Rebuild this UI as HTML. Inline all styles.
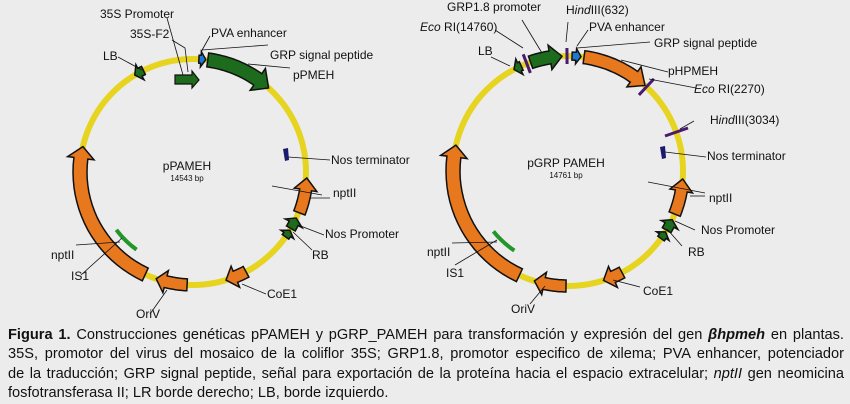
<!DOCTYPE html>
<html><head><meta charset="utf-8">
<style>
html,body{margin:0;padding:0;background:#ececec;}
body{width:850px;height:404px;overflow:hidden;position:relative;font-family:"Liberation Sans",sans-serif;}
svg{position:absolute;left:0;top:0;}
svg text{font-family:"Liberation Sans",sans-serif;font-size:12px;fill:#111;}
.cap{position:absolute;left:8px;width:836px;font-size:14.6px;color:#111;line-height:19.3px;}
.cap div{text-align:justify;text-align-last:justify;white-space:nowrap;}
.cap div.last{text-align-last:left;}
</style></head><body>
<svg id="s" width="850" height="320" viewBox="0 0 850 320">
<g id="g"></g>
<g fill="none" stroke="#111" stroke-width="0.8">
<!-- left leader lines -->
<polyline points="167,18 183,75"/>
<polyline points="172,40 185,48 188,72"/>
<polyline points="210,36 201,52"/>
<polyline points="202,50 268,45"/>
<polyline points="248,64 290,68"/>
<polyline points="118,57 142,70"/>
<polyline points="288,157 330,160"/>
<polyline points="272,186 322,195"/>
<polyline points="310,198 330,198"/>
<polyline points="298,225 324,235"/>
<polyline points="293,232 312,250"/>
<polyline points="242,284 266,294"/>
<polyline points="167,290 150,314"/>
<polyline points="76,245 120,242"/>
<polyline points="81,275 122,238"/>
<!-- right leader lines -->
<polyline points="522,20 542,53"/>
<polyline points="495,30 523,48"/>
<polyline points="491,57 510,66"/>
<polyline points="568,22 566,42"/>
<polyline points="588,30 577,46"/>
<polyline points="577,48 650,42"/>
<polyline points="621,60 668,72"/>
<polyline points="649,79 696,88"/>
<polyline points="694,121 680,129"/>
<polyline points="665,152 706,157"/>
<polyline points="648,182 705,193"/>
<polyline points="690,196 705,196"/>
<polyline points="675,221 695,230"/>
<polyline points="667,229 682,246"/>
<polyline points="613,280 640,287"/>
<polyline points="545,286 530,304"/>
<polyline points="452,243 497,242"/>
<polyline points="455,265 497,240"/>
</g>
<text x="100" y="18">35S Promoter</text>
<text x="130" y="38">35S-F2</text>
<text x="211" y="37">PVA enhancer</text>
<text x="270" y="59">GRP signal peptide</text>
<text x="293" y="79">pPMEH</text>
<text x="103" y="60">LB</text>
<text x="331" y="164">Nos terminator</text>
<text x="333" y="197">nptII</text>
<text x="325" y="238">Nos Promoter</text>
<text x="312" y="259">RB</text>
<text x="267" y="298">CoE1</text>
<text x="136" y="318">OriV</text>
<text x="51" y="259">nptII</text>
<text x="71" y="280">IS1</text>
<text x="187" y="170" text-anchor="middle" style="font-size:12px">pPAMEH</text>
<text x="187" y="181" text-anchor="middle" style="font-size:8px">14543 bp</text>

<text x="447" y="11">GRP1.8 promoter</text>
<text x="420" y="31"><tspan font-style="italic">Eco</tspan> RI(14760)</text>
<text x="478" y="55">LB</text>
<text x="566" y="14">H<tspan font-style="italic">ind</tspan>III(632)</text>
<text x="589" y="31">PVA enhancer</text>
<text x="654" y="47">GRP signal peptide</text>
<text x="668" y="75">pHPMEH</text>
<text x="694" y="93"><tspan font-style="italic">Eco</tspan> RI(2270)</text>
<text x="710" y="124">H<tspan font-style="italic">ind</tspan>III(3034)</text>
<text x="707" y="160">Nos terminator</text>
<text x="709" y="202">nptII</text>
<text x="701" y="234">Nos Promoter</text>
<text x="688" y="256">RB</text>
<text x="643" y="295">CoE1</text>
<text x="511" y="313">OriV</text>
<text x="427" y="256">nptII</text>
<text x="446" y="277">IS1</text>
<text x="566" y="167" text-anchor="middle" style="font-size:12px">pGRP PAMEH</text>
<text x="566" y="178" text-anchor="middle" style="font-size:8px">14761 bp</text>
</svg>
<div class="cap" style="top:326px">
<div><b>Figura 1.</b> Construcciones genéticas pPAMEH y pGRP_PAMEH para transformación y expresión del gen <b><i>βhpmeh</i></b> en plantas.</div>
<div>35S, promotor del virus del mosaico de la coliflor 35S; GRP1.8, promotor especifico de xilema; PVA enhancer, potenciador</div>
<div>de la traducción; GRP signal peptide, señal para exportación de la proteína hacia el espacio extracelular; <i>nptII</i> gen neomicina</div>
<div class="last">fosfotransferasa II; LR borde derecho; LB, borde izquierdo.</div>
</div>
<script>
var g=document.getElementById('g'),NS='http://www.w3.org/2000/svg';
function P(cx,cy,r,a){a=a*Math.PI/180;return [cx+r*Math.sin(a),cy-r*Math.cos(a)];}
function el(t,at){var e=document.createElementNS(NS,t);for(var k in at)e.setAttribute(k,at[k]);g.appendChild(e);return e;}
function ring(cx,cy,r){el('circle',{cx:cx,cy:cy,r:r,fill:'none',stroke:'#e6d420','stroke-width':6});}
function arrow(cx,cy,r,a1,a2,w,col,hl){
 var s=a2>a1?1:-1; hl=hl||6; var ab=a2-s*hl; var pts=[],n=20,i,a;
 for(i=0;i<=n;i++){a=a1+(ab-a1)*i/n;pts.push(P(cx,cy,r+w/2,a));}
 pts.push(P(cx,cy,r+w*0.95,ab));pts.push(P(cx,cy,r,a2));pts.push(P(cx,cy,r-w*0.95,ab));
 for(i=n;i>=0;i--){a=a1+(ab-a1)*i/n;pts.push(P(cx,cy,r-w/2,a));}
 el('polygon',{points:pts.map(function(p){return p[0].toFixed(1)+','+p[1].toFixed(1)}).join(' '),fill:col,stroke:'#111','stroke-width':1.5,'stroke-linejoin':'miter'});
}
function arc(cx,cy,r,a1,a2,col,w){var p1=P(cx,cy,r,a1),p2=P(cx,cy,r,a2);
 el('path',{d:'M'+p1+' A'+r+' '+r+' 0 0 1 '+p2,fill:'none',stroke:col,'stroke-width':w});}
function tick(cx,cy,r,a,l,col,w){var p1=P(cx,cy,r-l,a),p2=P(cx,cy,r+l,a);el('line',{x1:p1[0],y1:p1[1],x2:p2[0],y2:p2[1],stroke:col,'stroke-width':w||3});}
var G='#1d6b1d',O='#e8781e',N='#1a1a6e',B='#1e78d8',V='#4a1a6e';
// left plasmid
var cx=193,cy=172,r=113;
ring(cx,cy,r);
arrow(cx,cy,r,7.5,42,14,G,7);
arrow(cx,cy,r,-26,-31,9,G,3);
arrow(cx,cy,r,3,6.5,8,B,2.5);
arrow(cx,cy,r+1,111,93,12,O,6);
arrow(cx,cy,r,120,114,10,G,3);
arrow(cx,cy,r,125,121,8,G,2.5);
arrow(cx,cy,r,152,163,12,O,5);
arrow(cx,cy,r,183,199,12,O,5);
arrow(cx,cy,r,205,283,14,O,6);
arc(cx,cy,96,216,233,'#22962a',4);
el('polygon',{points:'332,73 349,73 349,69 356,78 349,86 349,82 332,82',fill:G,stroke:'#111','stroke-width':1.2,transform:'translate(-157,2)'});
el('polygon',{points:'283,149 288,148 289,160 285,161',fill:N});
// right plasmid
cx=568;cy=171;r=115;
ring(cx,cy,r);
arrow(cx,cy,r,-19,-3,13,G,6);
arrow(cx,cy,r,-24,-28,9,G,3);
arrow(cx,cy,r,2,6.5,8,B,2.5);
arrow(cx,cy,r,8,42,13,O,7);
arrow(cx,cy,r,112,94,12,O,6);
arrow(cx,cy,r,121,115,10,G,3);
arrow(cx,cy,r,126,122,8,G,2.5);
arrow(cx,cy,r,152,162,12,O,5);
arrow(cx,cy,r,181,197,12,O,5);
arrow(cx,cy,r,205,283,14,O,6);
arc(cx,cy,96,214,231,'#22962a',4);
tick(cx,cy,r,-21,10,V,3);
tick(cx,cy,r,-0.5,8,V,3);
tick(cx,cy,r,43,11,V,3);
el('line',{x1:665,y1:136,x2:688,y2:128,stroke:V,'stroke-width':3});
el('polygon',{points:'660,147 665,146 666,158 662,159',fill:N});
</script>
</body></html>
